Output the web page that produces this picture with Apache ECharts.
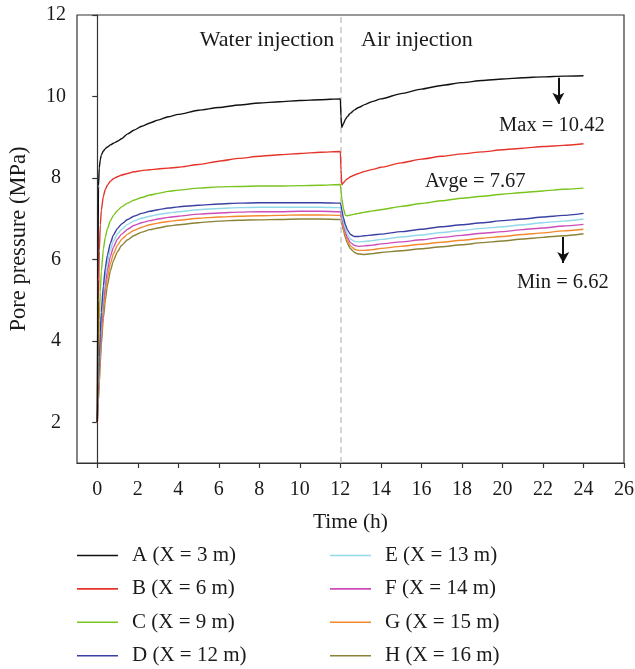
<!DOCTYPE html>
<html>
<head>
<meta charset="utf-8">
<script src="https://cdn.jsdelivr.net/npm/echarts@6/dist/echarts.min.js"></script>
<style>html,body{margin:0;padding:0;background:#fff}#c{width:635px;height:669px}</style>
</head>
<body>
<div id="c"></div>
<script>
// ---- data ----
const time = [0, 0.03, 0.06, 0.1, 0.15, 0.2, 0.3, 0.4, 0.5, 0.65, 0.8, 1.0, 1.2, 1.5, 1.8, 2.2, 2.6, 3, 3.5, 4, 5, 6, 7, 8, 9, 10, 11, 12,
  12.03, 12.07, 12.15, 12.25, 12.35, 12.5, 12.7, 12.9, 13.2, 13.6, 14, 15, 16, 17, 18, 19, 20, 21, 22, 23, 24];
const seriesNames = ['A (X = 3 m)', 'B (X = 6 m)', 'C (X = 9 m)', 'D (X = 12 m)',
  'E (X = 13 m)', 'F (X = 14 m)', 'G (X = 15 m)', 'H (X = 16 m)'];
const A = [2, 5.5, 7.8, 8.25, 8.45, 8.56, 8.66, 8.72, 8.76, 8.81, 8.85, 8.9, 8.96, 9.08, 9.17, 9.27, 9.35, 9.42, 9.5, 9.56, 9.66, 9.73, 9.79, 9.84, 9.87, 9.9, 9.92, 9.94,
  9.5, 9.24, 9.33, 9.44, 9.51, 9.59, 9.67, 9.73, 9.8, 9.88, 9.94, 10.07, 10.18, 10.27, 10.34, 10.39, 10.43, 10.46, 10.48, 10.5, 10.51];
const B = [2, 3.5, 5.0, 6.2, 6.85, 7.2, 7.55, 7.72, 7.82, 7.92, 7.98, 8.03, 8.07, 8.11, 8.15, 8.18, 8.2, 8.22, 8.24, 8.26, 8.33, 8.41, 8.48, 8.53, 8.57, 8.6, 8.63, 8.65,
  8.2, 7.83, 7.88, 7.94, 7.98, 8.03, 8.07, 8.11, 8.16, 8.21, 8.26, 8.37, 8.46, 8.53, 8.59, 8.64, 8.69, 8.73, 8.77, 8.8, 8.84];
const C = [2, 2.8, 3.6, 4.5, 5.2, 5.7, 6.25, 6.55, 6.75, 6.95, 7.08, 7.2, 7.29, 7.38, 7.45, 7.52, 7.58, 7.62, 7.67, 7.7, 7.75, 7.78, 7.79, 7.8, 7.8, 7.81, 7.82, 7.84,
  7.7, 7.5, 7.25, 7.08, 7.07, 7.09, 7.11, 7.13, 7.16, 7.19, 7.22, 7.3, 7.37, 7.44, 7.5, 7.55, 7.6, 7.64, 7.68, 7.72, 7.75];
const D = [2, 2.5, 3.0, 3.6, 4.2, 4.7, 5.35, 5.8, 6.1, 6.4, 6.6, 6.76, 6.87, 6.98, 7.06, 7.13, 7.18, 7.22, 7.26, 7.29, 7.33, 7.36, 7.38, 7.39, 7.39, 7.39, 7.39, 7.38,
  7.33, 7.22, 7.02, 6.85, 6.72, 6.61, 6.56, 6.56, 6.58, 6.6, 6.62, 6.68, 6.74, 6.8, 6.85, 6.9, 6.95, 6.99, 7.04, 7.08, 7.13];
const E = [2, 2.4, 2.85, 3.4, 4.0, 4.5, 5.15, 5.6, 5.92, 6.24, 6.45, 6.63, 6.74, 6.86, 6.94, 7.01, 7.06, 7.1, 7.14, 7.17, 7.22, 7.25, 7.27, 7.28, 7.28, 7.28, 7.28, 7.27,
  7.22, 7.12, 6.93, 6.75, 6.61, 6.5, 6.44, 6.43, 6.44, 6.46, 6.49, 6.55, 6.6, 6.66, 6.71, 6.76, 6.8, 6.85, 6.9, 6.94, 6.99];
const F = [2, 2.35, 2.75, 3.25, 3.8, 4.3, 4.95, 5.4, 5.74, 6.08, 6.3, 6.5, 6.62, 6.74, 6.83, 6.9, 6.95, 6.99, 7.03, 7.06, 7.11, 7.14, 7.16, 7.17, 7.17, 7.18, 7.18, 7.17,
  7.12, 7.03, 6.85, 6.67, 6.53, 6.41, 6.34, 6.32, 6.33, 6.35, 6.38, 6.43, 6.48, 6.54, 6.59, 6.64, 6.68, 6.73, 6.77, 6.82, 6.86];
const G = [2, 2.3, 2.65, 3.1, 3.62, 4.1, 4.75, 5.2, 5.55, 5.9, 6.14, 6.35, 6.49, 6.62, 6.71, 6.79, 6.85, 6.89, 6.93, 6.96, 7.01, 7.04, 7.06, 7.07, 7.08, 7.09, 7.09, 7.08,
  7.04, 6.95, 6.78, 6.6, 6.46, 6.33, 6.25, 6.22, 6.22, 6.24, 6.27, 6.32, 6.37, 6.42, 6.47, 6.52, 6.56, 6.61, 6.65, 6.7, 6.74];
const H = [2, 2.25, 2.55, 2.95, 3.45, 3.9, 4.55, 5.0, 5.36, 5.72, 5.97, 6.19, 6.34, 6.48, 6.58, 6.67, 6.73, 6.77, 6.82, 6.85, 6.9, 6.94, 6.96, 6.97, 6.98, 6.99, 6.99, 6.98,
  6.95, 6.87, 6.71, 6.53, 6.39, 6.26, 6.17, 6.13, 6.12, 6.14, 6.17, 6.21, 6.26, 6.31, 6.36, 6.41, 6.45, 6.5, 6.54, 6.58, 6.63];
const xTicks = [0, 2, 4, 6, 8, 10, 12, 14, 16, 18, 20, 22, 24, 26];
const yTicks = [2, 4, 6, 8, 10, 12];
const switchTime = 12;
// annotations (text, x, y in data units)
const annoText = ['Water injection', 'Air injection', 'Max = 10.42', 'Avge = 7.67', 'Min = 6.62'];
const annoX = [8.38, 15.78, 22.44, 18.66, 22.98];
const annoY = [11.37, 11.37, 9.28, 7.92, 5.44];
const annoSize = [22, 22, 20.5, 20.5, 20.5];
// arrows: [x, yFrom, yTo]
const arrows = [[22.76, 10.46, 9.82], [23.0, 6.55, 5.91]];

// ---- chart ----
const colors = ['#111111', '#e5352b', '#79c41d', '#3b41a3', '#93d9ea', '#cc4db9', '#f2892c', '#8a8236'];
const allVals = [A, B, C, D, E, F, G, H];
const FONT = 'Liberation Serif';
const TXT = '#1a1a1a';

const lineSeries = allVals.map((vals, i) => ({
  name: seriesNames[i],
  type: 'line',
  data: time.map((t, k) => [t, vals[k]]),
  symbol: 'none',
  smooth: 0.2,
  smoothMonotone: 'x',
  lineStyle: { color: colors[i], width: 1.4 },
  itemStyle: { color: colors[i] },
  z: 10 - i
}));

const annoSeries = {
  name: 'anno',
  type: 'scatter',
  symbolSize: 0,
  silent: true,
  itemStyle: { opacity: 1 },
  data: annoText.map((t, i) => ({
    value: [annoX[i], annoY[i]], name: t,
    label: { fontSize: annoSize[i] }
  })),
  label: {
    show: true, position: 'inside', formatter: p => p.name,
    fontFamily: FONT, fontSize: 20, color: TXT
  },
  markLine: {
    silent: true,
    symbol: ['none', 'none'],
    label: { show: false },
    lineStyle: { color: '#c8c8c8', type: [6, 4], width: 1.5, opacity: 1 },
    data: [{ xAxis: switchTime }]
  },
  z: 20
};

const arrowSeries = {
  name: 'arrows',
  type: 'line',
  data: [],
  markLine: {
    silent: true,
    symbol: ['none', 'arrow'],
    symbolSize: [9, 11],
    label: { show: false },
    lineStyle: { color: '#111', type: 'solid', width: 2 },
    data: arrows.map(a => [{ coord: [a[0], a[1]] }, { coord: [a[0], a[2]] }])
  },
  z: 20
};

const legendCommon = {
  orient: 'vertical',
  top: 545,
  bottom: 0,
  itemWidth: 41,
  itemHeight: 14,
  itemGap: 12.4,
  padding: 0,
  icon: 'path://M0,0 L41,0 L41,1.6 L0,1.6 Z',
  textStyle: { fontFamily: FONT, fontSize: 21, lineHeight: 20, color: TXT, padding: [0, 0, 0, 9] }
};

const chart = echarts.init(document.getElementById('c'), null, { renderer: 'canvas' });
chart.setOption({
  animation: false,
  backgroundColor: '#fff',
  color: colors,
  grid: { left: 77, right: 11, top: 15, bottom: 206, show: true, borderColor: '#333', borderWidth: 1.2,
    containLabel: false, outerBoundsMode: 'none' },
  legend: [
    Object.assign({}, legendCommon, { left: 77, data: seriesNames.slice(0, 4) }),
    Object.assign({}, legendCommon, { left: 330, data: seriesNames.slice(4) })
  ],
  xAxis: {
    type: 'value', min: -1, max: 26,
    name: 'Time (h)', nameLocation: 'middle', nameGap: 48,
    nameTextStyle: { fontFamily: FONT, fontSize: 21.5, color: TXT },
    axisLine: { show: true, lineStyle: { color: '#333', width: 1.2 } },
    axisTick: { show: true, inside: false, length: 5, customValues: xTicks, lineStyle: { color: '#333', width: 1.2 } },
    axisLabel: { customValues: xTicks, margin: 17, fontFamily: FONT, fontSize: 20, color: TXT },
    splitLine: { show: false }
  },
  yAxis: {
    type: 'value', min: 1, max: 12,
    name: 'Pore pressure (MPa)', nameLocation: 'middle', nameGap: 46,
    nameTextStyle: { fontFamily: FONT, fontSize: 22.5, color: TXT },
    axisLine: { show: true, lineStyle: { color: '#333', width: 1.2 } },
    axisTick: { show: true, inside: false, length: 5, customValues: yTicks, lineStyle: { color: '#333', width: 1.2 } },
    axisLabel: { customValues: yTicks, margin: 21, align: 'center', fontFamily: FONT, fontSize: 20, color: TXT },
    splitLine: { show: false }
  },
  series: lineSeries.concat([annoSeries, arrowSeries])
});
</script>
</body>
</html>
